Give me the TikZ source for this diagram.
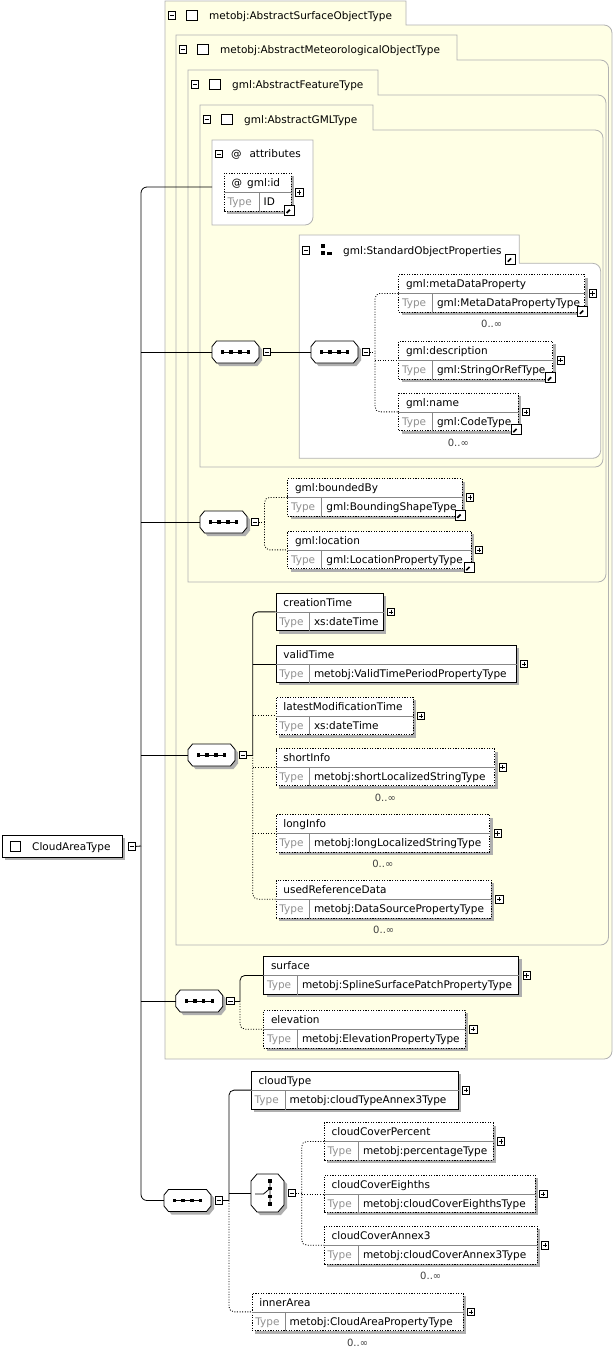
\documentclass[tikz,border=0pt]{standalone}
\usepackage{fontspec}
\setmainfont{DejaVu Sans}
\usetikzlibrary{calc,shadows}
\definecolor{panelfill}{RGB}{255,255,229}
\definecolor{panelline}{RGB}{178,178,178}
\definecolor{shadowgray}{RGB}{175,175,175}
\definecolor{typegray}{RGB}{145,145,145}
\definecolor{divgray}{RGB}{135,135,135}
\tikzset{
 conn/.style={line width=0.8pt, black},
 optc/.style={line width=0.8pt, black, dash pattern=on 1pt off 1.6pt},
 pm/.style={draw, fill=white, minimum size=7.5pt, inner sep=0pt, line width=0.7pt},
 minusb/.style={pm, path picture={\draw[line width=0.7pt] ([xshift=1.6pt]path picture bounding box.west) -- ([xshift=-1.6pt]path picture bounding box.east);}},
 plusb/.style={pm, path picture={\draw[line width=0.7pt] ([xshift=1.6pt]path picture bounding box.west) -- ([xshift=-1.6pt]path picture bounding box.east) ([yshift=-1.6pt]path picture bounding box.north) -- ([yshift=1.6pt]path picture bounding box.south);}},
 ebase/.style={draw, fill=white, line width=0.8pt, inner sep=0pt, drop shadow={shadow xshift=3pt, shadow yshift=-3pt, fill=shadowgray, opacity=1}},
 emand/.style={ebase},
 eopt/.style={ebase, dash pattern=on 1.2pt off 1.4pt},
 divl/.style={divgray, line width=0.7pt},
 tlabel/.style={inner sep=0pt, anchor=base west},
 typel/.style={tlabel, text=typegray},
 multl/.style={inner sep=0pt, font=\fontsize{10}{12}\selectfont, text=black!75},
 linkic/.style={draw, fill=white, minimum size=10pt, inner sep=0pt, line width=0.9pt,
   path picture={\draw[line width=1.7pt] ([shift={(2.3pt,2.3pt)}]path picture bounding box.south west) -- ([shift={(-3.6pt,-3.6pt)}]path picture bounding box.north east);
   \fill ([shift={(-1.6pt,-1.6pt)}]path picture bounding box.north east) -- ++(-5.4pt,0pt) -- ++(5.4pt,-5.4pt) -- cycle;}},
 ticon/.style={draw, fill=white, minimum size=10.5pt, inner sep=0pt, line width=0.8pt},
}
\newcommand\tabpanel[7]{%
 \draw[panelline, fill=#7, line width=0.8pt] (#1,#2) -- (#3,#2) -- (#3,#4) -- ({#5-8},#4) arc[start angle=90,end angle=0,radius=8pt] -- (#5,{#6-8}) arc[start angle=0,end angle=-90,radius=8pt] -- (#1,#6) -- cycle;}
\newcommand\ptitle[4]{%
 \node[minusb] (#1-m) at ({#2+7},{#3+14.5}) {};
 \node[ticon] (#1-i) at ({#2+27},{#3+14.5}) {};
 \node[tlabel] (#1-t) at ({#2+44},{#3+18.8}) {#4};}
\newcommand\elem[9]{%
 \node[#6, minimum width=#4pt, minimum height=#5pt, anchor=north west] (#1) at (#2,#3) {};
 \draw[divl] (#1.west) -- (#1.east);
 \draw[divl] ([xshift=#9pt]#1.west) -- ([xshift=#9pt]#1.south west);
 \node[tlabel] (#1-t) at ([shift={(7.5pt,-13.5pt)}]#1.north west) {#7};
 \node[typel] (#1-k) at ([shift={(3.5pt,-13.3pt)}]#1.west) {Type};
 \node[tlabel] (#1-v) at ([shift={(#9pt+4.5pt,-13.3pt)}]#1.west) {#8};
 \node[plusb] (#1-p) at ([xshift=7.5pt]#1.east) {};}
\newcommand\linkon[1]{\node[linkic] (#1-l) at ([shift={(-2.5pt,1.5pt)}]#1.south east) {};}
\newcommand\mult[1]{\node[multl] (#1-mu) at ([yshift=-11.5pt]#1.south) {0..∞};}
\newcommand\seqn[3]{%
 \node[minimum width=47pt, minimum height=22pt, inner sep=0pt] (#1) at (#2,#3) {};
 \fill[shadowgray, shift={(#1.center)}, xshift=3pt, yshift=-3pt] (-19pt,11pt) -- (19pt,11pt) -- (23.5pt,5.5pt) -- (23.5pt,-5.5pt) -- (19pt,-11pt) -- (-19pt,-11pt) -- (-23.5pt,-5.5pt) -- (-23.5pt,5.5pt) -- cycle;
 \draw[fill=white, line width=0.8pt, shift={(#1.center)}] (-19pt,11pt) -- (19pt,11pt) -- (23.5pt,5.5pt) -- (23.5pt,-5.5pt) -- (19pt,-11pt) -- (-19pt,-11pt) -- (-23.5pt,-5.5pt) -- (-23.5pt,5.5pt) -- cycle;
 \draw[line width=0.8pt] ([xshift=-13pt]#1.center) -- ([xshift=13pt]#1.center);
 \foreach \dx in {-13,-4.33,4.33,13}{\fill ([xshift=\dx pt]#1.center) ++(-1.7pt,-1.7pt) rectangle ++(3.4pt,3.4pt);}
 \node[minusb] (#1-m) at ([xshift=7.5pt]#1.east) {};}
\newcommand\choicen[3]{%
 \node[minimum width=33pt, minimum height=38pt, inner sep=0pt] (#1) at (#2,#3) {};
 \fill[shadowgray, shift={(#1.center)}, xshift=3pt, yshift=-3pt] (-10.5pt,19pt) -- (10.5pt,19pt) -- (16.5pt,12pt) -- (16.5pt,-12pt) -- (10.5pt,-19pt) -- (-10.5pt,-19pt) -- (-16.5pt,-12pt) -- (-16.5pt,12pt) -- cycle;
 \draw[fill=white, line width=0.8pt, shift={(#1.center)}] (-10.5pt,19pt) -- (10.5pt,19pt) -- (16.5pt,12pt) -- (16.5pt,-12pt) -- (10.5pt,-19pt) -- (-10.5pt,-19pt) -- (-16.5pt,-12pt) -- (-16.5pt,12pt) -- cycle;
 \draw[line width=0.8pt, shift={(#1.center)}] (2.5pt,12pt) -- (2.5pt,-11pt) (-12.5pt,-1pt) -- (-4pt,-1pt) -- (2.5pt,4.5pt);
 \foreach \dy in {12,4.5,-3.5,-11}{\fill ([shift={(2.5pt,\dy pt)}]#1.center) ++(-1.7pt,-1.7pt) rectangle ++(3.4pt,3.4pt);}
 \node[minusb] (#1-m) at ([xshift=7.5pt]#1.east) {};}

\begin{document}
\begin{tikzpicture}[x=1pt,y=-1pt,font=\fontsize{10.5}{12.6}\selectfont]
\useasboundingbox (0,0) rectangle (614,1350);
\fill[white] (0,0) rectangle (614,1350);

% nested type panels
\tabpanel{165}{1}{406}{25}{612}{1059}{panelfill}
\tabpanel{176}{35}{457}{60}{608.5}{945}{panelfill}
\tabpanel{188}{70}{378}{95}{606}{582}{panelfill}
\tabpanel{200}{105}{373}{130}{603}{467}{panelfill}
\ptitle{pA}{165}{1}{metobj:AbstractSurfaceObjectType}
\ptitle{pB}{176}{35}{metobj:AbstractMeteorologicalObjectType}
\ptitle{pC}{188}{70}{gml:AbstractFeatureType}
\ptitle{pD}{200}{105}{gml:AbstractGMLType}

% attributes box
\draw[panelline, fill=white, line width=0.8pt] (212,140) -- (313,140) -- (313,217) arc[start angle=0,end angle=-90,radius=8pt] -- (212,225) -- cycle;
\node[minusb] (at-m) at (219,154) {};
\node[tlabel] (at-a) at (231,157.8) {@};
\node[tlabel] (at-t) at (249.3,157.8) {attributes};
\coordinate (attrin) at (212,187);
\elem{gid}{224}{173}{67}{38}{eopt}{@\kern5pt gml:id}{ID}{35}
\linkon{gid}

% group panel
\tabpanel{299.3}{235}{519.3}{263.3}{600.7}{458.3}{white}
\node[minusb] (grp-m) at (306,250.5) {};
\fill (321,243.5) rectangle (324.5,248);
\fill (321,250.5) rectangle (324.5,255);
\fill (326.5,251.5) rectangle (331.5,255);
\node[tlabel] (grp-t) at (343,254.5) {gml:StandardObjectProperties};
\node[linkic] (grp-l) at (510.5,259) {};

% elements
\elem{mdp}{398.3}{274.3}{186}{37.5}{eopt}{gml:metaDataProperty}{gml:MetaDataPropertyType}{34}
\linkon{mdp}\mult{mdp}
\elem{gdesc}{398.3}{341}{154}{37.5}{eopt}{gml:description}{gml:StringOrRefType}{34}
\linkon{gdesc}
\elem{gname}{398.3}{392.7}{119.4}{37.5}{eopt}{gml:name}{gml:CodeType}{34}
\linkon{gname}\mult{gname}
\elem{gbb}{287.3}{478.3}{174.4}{37.5}{eopt}{gml:boundedBy}{gml:BoundingShapeType}{34.4}
\linkon{gbb}
\elem{gloc}{287.3}{530.7}{183.4}{37.5}{eopt}{gml:location}{gml:LocationPropertyType}{34.4}
\linkon{gloc}
\elem{cT}{275.7}{592.7}{107}{37.5}{emand}{creationTime}{xs:dateTime}{33.6}
\elem{vT}{275.7}{645}{240}{37}{emand}{validTime}{metobj:ValidTimePeriodPropertyType}{33.6}
\elem{lmt}{275.7}{696.7}{137}{37.5}{eopt}{latestModificationTime}{xs:dateTime}{33.6}
\elem{sI}{275.7}{748.3}{218.6}{37}{eopt}{shortInfo}{metobj:shortLocalizedStringType}{33.6}
\mult{sI}
\elem{lI}{275.7}{814.3}{213.6}{37.5}{eopt}{longInfo}{metobj:longLocalizedStringType}{33.6}
\mult{lI}
\elem{urd}{275.7}{880}{215.3}{37.5}{eopt}{usedReferenceData}{metobj:DataSourcePropertyType}{33.6}
\mult{urd}
\elem{surf}{263.3}{956}{255}{38}{emand}{surface}{metobj:SplineSurfacePatchPropertyType}{34}
\elem{elev}{263.3}{1010}{201.7}{37.5}{eopt}{elevation}{metobj:ElevationPropertyType}{34}
\elem{cty}{251}{1070.7}{206.7}{38}{emand}{cloudType}{metobj:cloudTypeAnnex3Type}{34}
\elem{cCP}{324}{1122.3}{168.7}{37.5}{eopt}{cloudCoverPercent}{metobj:percentageType}{34.3}
\elem{cCE}{324}{1175}{211}{37}{eopt}{cloudCoverEighths}{metobj:cloudCoverEighthsType}{34.3}
\elem{cCA}{324}{1226}{212.7}{37.5}{eopt}{cloudCoverAnnex3}{metobj:cloudCoverAnnex3Type}{34.3}
\mult{cCA}
\elem{iA}{251.7}{1292.7}{211}{37.5}{eopt}{innerArea}{metobj:CloudAreaPropertyType}{33.3}
\mult{iA}

% root element
\node[ebase, minimum width=120pt, minimum height=22pt, anchor=north west] (cat) at (2,835) {};
\node[ticon] (cat-i) at ([xshift=13.5pt]cat.west) {};
\node[tlabel] (cat-t) at ([shift={(30pt,-4pt)}]cat.west) {CloudAreaType};
\node[minusb] (cat-m) at ([xshift=9pt]cat.east) {};

% compositors
\seqn{seq1}{235.5}{352}
\seqn{seq2}{334.5}{352}
\seqn{seq3}{223.5}{522}
\seqn{seq4}{211.5}{755}
\seqn{seq5}{199.2}{1001}
\seqn{seq6}{187.5}{1200.5}
\choicen{ch}{267.5}{1193}

% junctions
\coordinate (j0) at (141,846);
\coordinate (jA) at (375,352);
\coordinate (jB) at (264.5,522);
\coordinate (jC) at (252.7,755);
\coordinate (jD) at (240,1001);
\coordinate (jE) at (229,1200.5);
\coordinate (jF) at (301.7,1193);

% trunk
\draw[conn, rounded corners=6pt] (attrin) -| (j0);
\draw[conn, rounded corners=6pt] (j0) |- (seq6.west);
\draw[conn] (cat-m.east) -- (j0);
\draw[conn] (j0 |- seq1.west) -- (seq1.west);
\draw[conn] (j0 |- seq3.west) -- (seq3.west);
\draw[conn] (j0 |- seq4.west) -- (seq4.west);
\draw[conn] (j0 |- seq5.west) -- (seq5.west);

% seq1 / seq2
\draw[conn] (seq1-m.east) -- (seq2.west);
\draw[optc] (seq2-m.east) -- (jA);
\draw[optc, rounded corners=5pt] (mdp.west) -| (jA) |- (gname.west);
\draw[optc] (jA |- gdesc.west) -- (gdesc.west);

% seq3
\draw[optc] (seq3-m.east) -- (jB);
\draw[optc, rounded corners=5pt] (gbb.west) -| (jB) |- (gloc.west);

% seq4
\draw[conn] (seq4-m.east) -- (jC);
\draw[conn, rounded corners=5pt] (cT.west) -| (jC);
\draw[conn] (jC |- vT.west) -- (vT.west);
\draw[optc] (jC |- lmt.west) -- (lmt.west);
\draw[optc] (jC |- sI.west) -- (sI.west);
\draw[optc] (jC |- lI.west) -- (lI.west);
\draw[optc, rounded corners=5pt] (jC) |- (urd.west);

% seq5
\draw[conn] (seq5-m.east) -- (jD);
\draw[conn, rounded corners=5pt] (surf.west) -| (jD);
\draw[optc, rounded corners=5pt] (jD) |- (elev.west);

% seq6
\draw[conn] (seq6-m.east) -- (jE);
\draw[conn, rounded corners=5pt] (cty.west) -| (jE);
\draw[conn] (jE |- ch.west) -- (ch.west);
\draw[optc, rounded corners=5pt] (jE) |- (iA.west);

% choice
\draw[optc] (ch-m.east) -- (jF);
\draw[optc, rounded corners=5pt] (cCP.west) -| (jF) |- (cCA.west);
\draw[optc] (jF |- cCE.west) -- (cCE.west);
\end{tikzpicture}
\end{document}
